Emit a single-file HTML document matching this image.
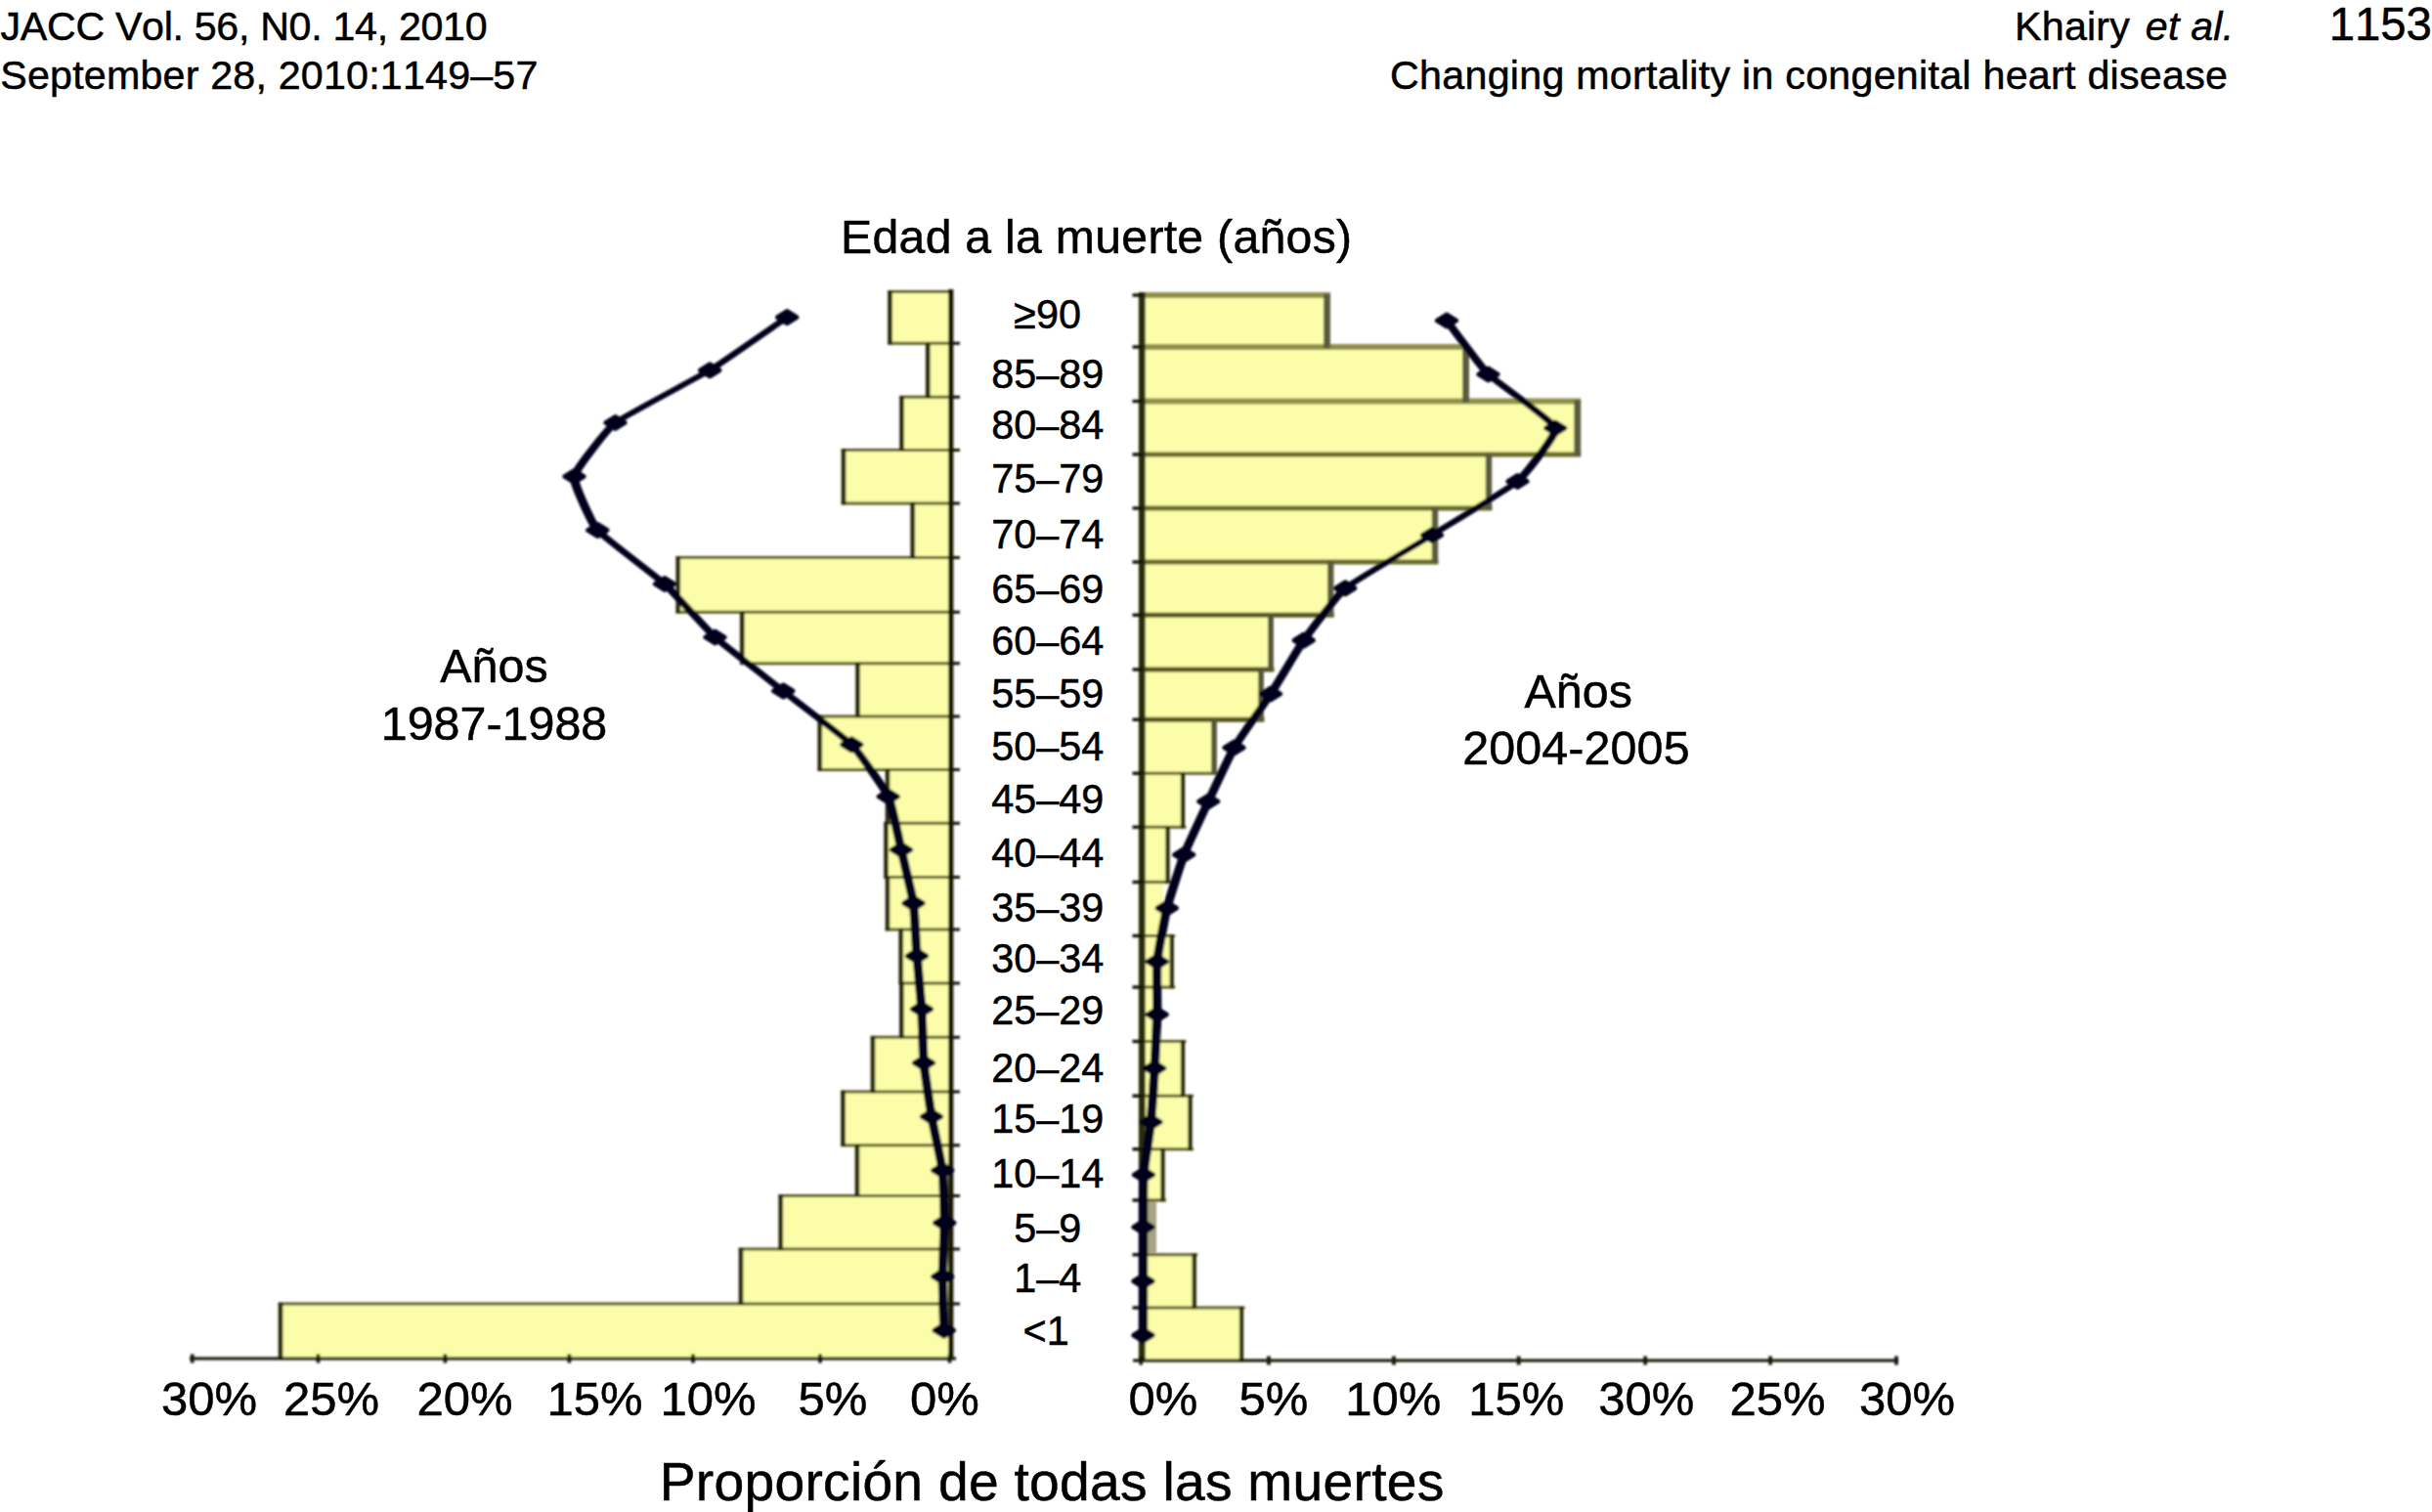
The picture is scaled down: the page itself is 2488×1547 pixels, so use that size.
<!DOCTYPE html>
<html lang="es"><head><meta charset="utf-8"><title>Changing mortality in congenital heart disease</title>
<style>
html,body{margin:0;padding:0;background:#fff;}
body{width:2488px;height:1547px;overflow:hidden;position:relative;}
svg{position:absolute;left:0;top:0;display:block;}
text{font-family:"Liberation Sans",sans-serif;fill:#000;font-kerning:none;stroke:#000;stroke-width:0.5px;}
</style></head><body>
<svg width="2488" height="1547" viewBox="0 0 2488 1547">
<defs><filter id="soft" x="-5%" y="-5%" width="110%" height="110%"><feGaussianBlur stdDeviation="1.0 0.8"/></filter></defs>
<rect width="2488" height="1547" fill="#fff"/>
<g filter="url(#soft)"><g transform="scale(1.6,1)">
<g fill="#fbfda8">
<rect x="569.06" y="298.5" width="39.38" height="52.75"/>
<rect x="593.28" y="351.25" width="15.16" height="55.00"/>
<rect x="576.56" y="406.25" width="31.88" height="54.25"/>
<rect x="539.38" y="460.5" width="69.06" height="54.50"/>
<rect x="583.59" y="515" width="24.84" height="55.50"/>
<rect x="433.59" y="570.5" width="174.84" height="55.75"/>
<rect x="474.53" y="626.25" width="133.91" height="52.50"/>
<rect x="548.44" y="678.75" width="60.00" height="54.25"/>
<rect x="524.22" y="733" width="84.22" height="54.50"/>
<rect x="567.50" y="787.5" width="40.94" height="54.80"/>
<rect x="566.56" y="842.3" width="41.88" height="55.20"/>
<rect x="567.50" y="897.5" width="40.94" height="53.50"/>
<rect x="576.09" y="951" width="32.34" height="55.00"/>
<rect x="576.44" y="1006" width="32.00" height="55.30"/>
<rect x="558.12" y="1061.3" width="50.31" height="55.70"/>
<rect x="539.06" y="1117" width="69.38" height="54.80"/>
<rect x="548.12" y="1171.8" width="60.31" height="51.70"/>
<rect x="499.22" y="1223.5" width="109.22" height="54.50"/>
<rect x="473.75" y="1278" width="134.69" height="56.00"/>
<rect x="179.38" y="1334" width="429.06" height="56.00"/>
</g>
<g fill="none">
<path d="M608.44 298.5H567.61" stroke="#5a5a1e" stroke-width="3.0"/>
<path d="M608.44 351.25H567.61" stroke="#5a5a1e" stroke-width="3.0"/>
<path d="M608.44 406.25H575.11" stroke="#5a5a1e" stroke-width="3.0"/>
<path d="M608.44 460.5H537.92" stroke="#5a5a1e" stroke-width="3.0"/>
<path d="M608.44 515H537.92" stroke="#5a5a1e" stroke-width="3.0"/>
<path d="M608.44 570.5H432.14" stroke="#5a5a1e" stroke-width="3.0"/>
<path d="M608.44 626.25H432.14" stroke="#5a5a1e" stroke-width="3.0"/>
<path d="M608.44 678.75H473.08" stroke="#5a5a1e" stroke-width="3.0"/>
<path d="M608.44 733H522.77" stroke="#5a5a1e" stroke-width="3.0"/>
<path d="M608.44 787.5H522.77" stroke="#5a5a1e" stroke-width="3.0"/>
<path d="M608.44 842.3H565.11" stroke="#5a5a1e" stroke-width="3.0"/>
<path d="M608.44 897.5H565.11" stroke="#5a5a1e" stroke-width="3.0"/>
<path d="M608.44 951H566.05" stroke="#5a5a1e" stroke-width="3.0"/>
<path d="M608.44 1006H574.64" stroke="#5a5a1e" stroke-width="3.0"/>
<path d="M608.44 1061.3H556.67" stroke="#5a5a1e" stroke-width="3.0"/>
<path d="M608.44 1117H537.61" stroke="#5a5a1e" stroke-width="3.0"/>
<path d="M608.44 1171.8H537.61" stroke="#5a5a1e" stroke-width="3.0"/>
<path d="M608.44 1223.5H497.77" stroke="#5a5a1e" stroke-width="3.0"/>
<path d="M608.44 1278H472.30" stroke="#5a5a1e" stroke-width="3.0"/>
<path d="M608.44 1334H177.92" stroke="#5a5a1e" stroke-width="3.0"/>
</g>
<g fill="none">
<path d="M569.06 297.30V352.45" stroke="#2a2a0c" stroke-width="2.9"/>
<path d="M593.28 350.05V407.45" stroke="#2a2a0c" stroke-width="2.9"/>
<path d="M576.56 405.05V461.70" stroke="#2a2a0c" stroke-width="2.9"/>
<path d="M539.38 459.30V516.20" stroke="#2a2a0c" stroke-width="2.9"/>
<path d="M583.59 513.80V571.70" stroke="#2a2a0c" stroke-width="2.9"/>
<path d="M433.59 569.30V627.45" stroke="#2a2a0c" stroke-width="2.9"/>
<path d="M474.53 625.05V679.95" stroke="#2a2a0c" stroke-width="2.9"/>
<path d="M548.44 677.55V734.20" stroke="#2a2a0c" stroke-width="2.9"/>
<path d="M524.22 731.80V788.70" stroke="#2a2a0c" stroke-width="2.9"/>
<path d="M567.50 786.30V843.50" stroke="#2a2a0c" stroke-width="2.9"/>
<path d="M566.56 841.10V898.70" stroke="#2a2a0c" stroke-width="2.9"/>
<path d="M567.50 896.30V952.20" stroke="#2a2a0c" stroke-width="2.9"/>
<path d="M576.09 949.80V1007.20" stroke="#2a2a0c" stroke-width="2.9"/>
<path d="M576.44 1004.80V1062.50" stroke="#2a2a0c" stroke-width="2.9"/>
<path d="M558.12 1060.10V1118.20" stroke="#2a2a0c" stroke-width="2.9"/>
<path d="M539.06 1115.80V1173.00" stroke="#2a2a0c" stroke-width="2.9"/>
<path d="M548.12 1170.60V1224.70" stroke="#2a2a0c" stroke-width="2.9"/>
<path d="M499.22 1222.30V1279.20" stroke="#2a2a0c" stroke-width="2.9"/>
<path d="M473.75 1276.80V1335.20" stroke="#2a2a0c" stroke-width="2.9"/>
<path d="M179.38 1332.80V1391.20" stroke="#2a2a0c" stroke-width="2.9"/>
</g>
<g stroke="#121206" fill="none">
<path d="M608.00 296.0V1391" stroke-width="3.2"/>
<path d="M121.25 1390H611.25" stroke-width="3.2"/>
<path d="M608.44 351.25h5.31" stroke-width="3"/>
<path d="M608.44 406.25h5.31" stroke-width="3"/>
<path d="M608.44 460.5h5.31" stroke-width="3"/>
<path d="M608.44 515h5.31" stroke-width="3"/>
<path d="M608.44 570.5h5.31" stroke-width="3"/>
<path d="M608.44 626.25h5.31" stroke-width="3"/>
<path d="M608.44 678.75h5.31" stroke-width="3"/>
<path d="M608.44 733h5.31" stroke-width="3"/>
<path d="M608.44 787.5h5.31" stroke-width="3"/>
<path d="M608.44 842.3h5.31" stroke-width="3"/>
<path d="M608.44 897.5h5.31" stroke-width="3"/>
<path d="M608.44 951h5.31" stroke-width="3"/>
<path d="M608.44 1006h5.31" stroke-width="3"/>
<path d="M608.44 1061.3h5.31" stroke-width="3"/>
<path d="M608.44 1117h5.31" stroke-width="3"/>
<path d="M608.44 1171.8h5.31" stroke-width="3"/>
<path d="M608.44 1223.5h5.31" stroke-width="3"/>
<path d="M608.44 1278h5.31" stroke-width="3"/>
<path d="M608.44 1334h5.31" stroke-width="3"/>
<path d="M122.94 1385.5v9" stroke-width="2.3"/>
<path d="M203.44 1385.5v9" stroke-width="2.3"/>
<path d="M284.62 1385.5v9" stroke-width="2.3"/>
<path d="M364.00 1385.5v9" stroke-width="2.3"/>
<path d="M443.12 1385.5v9" stroke-width="2.3"/>
<path d="M524.38 1385.5v9" stroke-width="2.3"/>
<path d="M607.19 1385.5v9" stroke-width="2.3"/>
</g>
<g fill="#fbfda8">
<rect x="730.00" y="302" width="118.44" height="53.00"/>
<rect x="730.00" y="355" width="207.19" height="55.50"/>
<rect x="730.00" y="410.5" width="278.59" height="54.50"/>
<rect x="730.00" y="465" width="221.88" height="55.00"/>
<rect x="730.00" y="520" width="187.50" height="55.00"/>
<rect x="730.00" y="575" width="120.78" height="54.25"/>
<rect x="730.00" y="629.25" width="82.50" height="55.75"/>
<rect x="730.00" y="685" width="76.25" height="51.25"/>
<rect x="730.00" y="736.25" width="46.25" height="55.00"/>
<rect x="730.00" y="791.25" width="26.25" height="55.00"/>
<rect x="730.00" y="846.25" width="16.56" height="56.25"/>
<rect x="730.00" y="902.5" width="13.75" height="55.00"/>
<rect x="730.00" y="957.5" width="19.22" height="52.50"/>
<rect x="730.00" y="1010" width="12.50" height="55.50"/>
<rect x="730.00" y="1065.5" width="26.25" height="55.75"/>
<rect x="730.00" y="1121.25" width="30.94" height="54.50"/>
<rect x="730.00" y="1175.75" width="13.44" height="52.25"/>
<rect x="730.00" y="1228" width="8.12" height="55.75"/>
<rect x="730.00" y="1283.75" width="33.59" height="54.25"/>
<rect x="730.00" y="1338" width="63.75" height="54.00"/>
</g>
<g fill="none">
<path d="M730.00 302H850.59" stroke="#90904c" stroke-width="5.8"/>
<path d="M730.00 355H939.34" stroke="#90904c" stroke-width="5.8"/>
<path d="M730.00 410.5H1010.74" stroke="#90904c" stroke-width="5.8"/>
<path d="M730.00 465H1010.74" stroke="#6a6a2c" stroke-width="5.2"/>
<path d="M730.00 520H954.02" stroke="#6a6a2c" stroke-width="5.2"/>
<path d="M730.00 575H919.65" stroke="#6a6a2c" stroke-width="5.2"/>
<path d="M730.00 629.25H852.93" stroke="#55551c" stroke-width="5.0"/>
<path d="M730.00 685H814.65" stroke="#55551c" stroke-width="5.0"/>
<path d="M730.00 736.25H808.40" stroke="#55551c" stroke-width="5.0"/>
<path d="M730.00 791.25H778.40" stroke="#5a5a22" stroke-width="3.2"/>
<path d="M730.00 846.25H758.40" stroke="#5a5a22" stroke-width="3.2"/>
<path d="M730.00 902.5H748.71" stroke="#5a5a22" stroke-width="3.2"/>
<path d="M730.00 957.5H751.37" stroke="#5a5a22" stroke-width="3.2"/>
<path d="M730.00 1010H751.37" stroke="#5a5a22" stroke-width="3.2"/>
<path d="M730.00 1065.5H758.40" stroke="#5a5a22" stroke-width="3.2"/>
<path d="M730.00 1121.25H763.09" stroke="#5a5a22" stroke-width="3.2"/>
<path d="M730.00 1175.75H763.09" stroke="#5a5a22" stroke-width="3.2"/>
<path d="M730.00 1228H745.59" stroke="#5a5a22" stroke-width="3.2"/>
<path d="M730.00 1283.75H765.74" stroke="#5a5a22" stroke-width="3.2"/>
<path d="M730.00 1338H795.90" stroke="#5a5a22" stroke-width="3.2"/>
</g>
<g fill="none">
<path d="M848.44 300.80V356.20" stroke="#5a5a40" stroke-width="4.3"/>
<path d="M937.19 353.80V411.70" stroke="#5a5a40" stroke-width="4.3"/>
<path d="M1008.59 409.30V466.20" stroke="#5a5a40" stroke-width="4.3"/>
<path d="M951.88 463.80V521.20" stroke="#5a5a40" stroke-width="4.0"/>
<path d="M917.50 518.80V576.20" stroke="#5a5a40" stroke-width="4.0"/>
<path d="M850.78 573.80V630.45" stroke="#5a5a40" stroke-width="4.0"/>
<path d="M812.50 628.05V686.20" stroke="#55553a" stroke-width="3.6"/>
<path d="M806.25 683.80V737.45" stroke="#55553a" stroke-width="3.6"/>
<path d="M776.25 735.05V792.45" stroke="#55553a" stroke-width="3.6"/>
<path d="M756.25 790.05V847.45" stroke="#2c2c10" stroke-width="2.7"/>
<path d="M746.56 845.05V903.70" stroke="#2c2c10" stroke-width="2.7"/>
<path d="M749.22 956.30V1011.20" stroke="#2c2c10" stroke-width="2.7"/>
<path d="M756.25 1064.30V1122.45" stroke="#2c2c10" stroke-width="2.7"/>
<path d="M760.94 1120.05V1176.95" stroke="#2c2c10" stroke-width="2.7"/>
<path d="M743.44 1174.55V1229.20" stroke="#2c2c10" stroke-width="2.7"/>
<path d="M763.59 1282.55V1339.20" stroke="#2c2c10" stroke-width="2.7"/>
<path d="M793.75 1336.80V1393.20" stroke="#2c2c10" stroke-width="2.7"/>
</g>
<rect x="730.00" y="1230" width="9.38" height="51.75" fill="#a5a583"/>
<g stroke="#2a2e0e" fill="none">
<path d="M730.19 299V1393" stroke-width="4.3"/>
</g>
<g stroke="#121206" fill="none">
<path d="M724.38 1392H1213.75" stroke-width="3.2"/>
<path d="M730.62 302h-6.56" stroke-width="3.4"/>
<path d="M730.62 355h-6.56" stroke-width="3.4"/>
<path d="M730.62 410.5h-6.56" stroke-width="3.4"/>
<path d="M730.62 465h-6.56" stroke-width="3.4"/>
<path d="M730.62 520h-6.56" stroke-width="3.4"/>
<path d="M730.62 575h-6.56" stroke-width="3.4"/>
<path d="M730.62 629.25h-6.56" stroke-width="3.4"/>
<path d="M730.62 685h-6.56" stroke-width="3.4"/>
<path d="M730.62 736.25h-6.56" stroke-width="3.4"/>
<path d="M730.62 791.25h-6.56" stroke-width="3.4"/>
<path d="M730.62 846.25h-6.56" stroke-width="3.4"/>
<path d="M730.62 902.5h-6.56" stroke-width="3.4"/>
<path d="M730.62 957.5h-6.56" stroke-width="3.4"/>
<path d="M730.62 1010h-6.56" stroke-width="3.4"/>
<path d="M730.62 1065.5h-6.56" stroke-width="3.4"/>
<path d="M730.62 1121.25h-6.56" stroke-width="3.4"/>
<path d="M730.62 1175.75h-6.56" stroke-width="3.4"/>
<path d="M730.62 1228h-6.56" stroke-width="3.4"/>
<path d="M730.62 1283.75h-6.56" stroke-width="3.4"/>
<path d="M730.62 1338h-6.56" stroke-width="3.4"/>
<path d="M729.50 1387.5v9" stroke-width="2.3"/>
<path d="M811.19 1387.5v9" stroke-width="2.3"/>
<path d="M891.19 1387.5v9" stroke-width="2.3"/>
<path d="M971.00 1387.5v9" stroke-width="2.3"/>
<path d="M1052.00 1387.5v9" stroke-width="2.3"/>
<path d="M1132.00 1387.5v9" stroke-width="2.3"/>
<path d="M1212.50 1387.5v9" stroke-width="2.3"/>
</g>
</g>
<g transform="scale(2.2,1)">
<path d="M366.0 324.6C363.8 327.8 334.9 372.3 330.1 378.8C325.3 385.2 289.9 426.0 286.1 432.5C282.4 439.0 267.5 480.9 267.0 487.5C266.5 494.1 275.3 535.9 277.8 542.5C280.4 549.1 305.8 590.9 309.1 597.5C312.4 604.1 329.2 645.4 332.5 652.0C335.8 658.6 360.4 700.4 364.2 707.0C368.0 713.6 393.1 755.3 396.0 761.8C399.0 768.2 411.7 808.5 413.1 815.0C414.5 821.5 418.4 862.9 419.1 869.5C419.8 876.1 424.3 917.7 424.8 924.2C425.2 930.8 426.1 971.8 426.4 978.2C426.6 984.7 428.4 1025.9 428.6 1032.5C428.8 1039.1 429.3 1080.9 429.5 1087.5C429.8 1094.1 432.7 1135.9 433.2 1142.5C433.7 1149.1 437.9 1191.0 438.3 1197.5C438.7 1204.0 439.2 1244.7 439.2 1251.2C439.2 1257.8 438.3 1299.7 438.3 1306.2C438.3 1312.8 438.9 1358.0 439.0 1361.2" fill="none" stroke="#05051c" stroke-width="4.25" stroke-linejoin="round" stroke-linecap="round"/>
<path d="M672.7 328.0C673.9 331.3 689.0 376.4 692.0 383.0C695.1 389.6 722.5 431.4 723.3 438.0C724.1 444.6 709.1 485.9 705.7 492.5C702.2 499.1 670.7 540.9 665.9 547.5C661.1 554.1 629.1 595.3 625.6 601.8C622.0 608.2 608.3 648.8 606.2 655.2C604.2 661.7 592.9 703.4 590.9 710.0C589.0 716.6 575.6 758.4 573.9 765.0C572.1 771.6 563.3 813.4 561.9 820.0C560.5 826.6 551.7 867.9 550.6 874.5C549.4 881.1 543.4 922.7 542.6 929.2C541.9 935.8 538.3 977.2 538.1 983.8C537.8 990.3 538.1 1031.4 538.1 1038.0C538.0 1044.6 537.1 1086.4 536.9 1093.0C536.8 1099.6 535.5 1141.5 535.2 1148.0C534.9 1154.5 532.0 1195.5 531.8 1202.0C531.6 1208.5 531.6 1249.0 531.6 1255.5C531.6 1262.0 531.6 1304.1 531.6 1310.8C531.6 1317.4 531.6 1362.9 531.6 1366.2" fill="none" stroke="#05051c" stroke-width="4.25" stroke-linejoin="round" stroke-linecap="round"/>
</g>
<g fill="#05051c" stroke="#05051c" stroke-width="5" stroke-linejoin="round"><path d="M795.6 324.6L805.2 318.6L814.8 324.6L805.2 330.6Z"/><path d="M716.6 378.8L726.2 372.8L735.9 378.8L726.2 384.8Z"/><path d="M619.9 432.5L629.5 426.5L639.1 432.5L629.5 438.5Z"/><path d="M577.9 487.5L587.5 481.5L597.1 487.5L587.5 493.5Z"/><path d="M601.6 542.5L611.2 536.5L620.9 542.5L611.2 548.5Z"/><path d="M670.4 597.5L680.0 591.5L689.6 597.5L680.0 603.5Z"/><path d="M721.9 652.0L731.5 646.0L741.1 652.0L731.5 658.0Z"/><path d="M791.6 707.0L801.2 701.0L810.9 707.0L801.2 713.0Z"/><path d="M861.6 761.8L871.2 755.8L880.9 761.8L871.2 767.8Z"/><path d="M899.2 815.0L908.8 809.0L918.4 815.0L908.8 821.0Z"/><path d="M912.4 869.5L922.0 863.5L931.6 869.5L922.0 875.5Z"/><path d="M924.9 924.2L934.5 918.2L944.1 924.2L934.5 930.2Z"/><path d="M928.4 978.2L938.0 972.2L947.6 978.2L938.0 984.2Z"/><path d="M933.4 1032.5L943.0 1026.5L952.6 1032.5L943.0 1038.5Z"/><path d="M935.4 1087.5L945.0 1081.5L954.6 1087.5L945.0 1093.5Z"/><path d="M943.4 1142.5L953.0 1136.5L962.6 1142.5L953.0 1148.5Z"/><path d="M954.6 1197.5L964.2 1191.5L973.9 1197.5L964.2 1203.5Z"/><path d="M956.6 1251.2L966.2 1245.2L975.9 1251.2L966.2 1257.2Z"/><path d="M954.6 1306.2L964.2 1300.2L973.9 1306.2L964.2 1312.2Z"/><path d="M956.1 1361.2L965.8 1355.2L975.4 1361.2L965.8 1367.2Z"/><path d="M1470.4 328.0L1480.0 322.0L1489.6 328.0L1480.0 334.0Z"/><path d="M1512.9 383.0L1522.5 377.0L1532.1 383.0L1522.5 389.0Z"/><path d="M1581.7 438.0L1591.2 432.0L1600.8 438.0L1591.2 444.0Z"/><path d="M1542.9 492.5L1552.5 486.5L1562.1 492.5L1552.5 498.5Z"/><path d="M1455.4 547.5L1465.0 541.5L1474.6 547.5L1465.0 553.5Z"/><path d="M1366.7 601.8L1376.2 595.8L1385.8 601.8L1376.2 607.8Z"/><path d="M1324.2 655.2L1333.8 649.2L1343.3 655.2L1333.8 661.2Z"/><path d="M1290.4 710.0L1300.0 704.0L1309.6 710.0L1300.0 716.0Z"/><path d="M1252.9 765.0L1262.5 759.0L1272.1 765.0L1262.5 771.0Z"/><path d="M1226.7 820.0L1236.2 814.0L1245.8 820.0L1236.2 826.0Z"/><path d="M1201.7 874.5L1211.2 868.5L1220.8 874.5L1211.2 880.5Z"/><path d="M1184.2 929.2L1193.8 923.2L1203.4 929.2L1193.8 935.2Z"/><path d="M1174.2 983.8L1183.8 977.8L1193.3 983.8L1183.8 989.8Z"/><path d="M1174.2 1038.0L1183.8 1032.0L1193.3 1038.0L1183.8 1044.0Z"/><path d="M1171.7 1093.0L1181.2 1087.0L1190.8 1093.0L1181.2 1099.0Z"/><path d="M1167.9 1148.0L1177.5 1142.0L1187.1 1148.0L1177.5 1154.0Z"/><path d="M1160.4 1202.0L1170.0 1196.0L1179.6 1202.0L1170.0 1208.0Z"/><path d="M1159.9 1255.5L1169.5 1249.5L1179.1 1255.5L1169.5 1261.5Z"/><path d="M1159.9 1310.8L1169.5 1304.8L1179.1 1310.8L1169.5 1316.8Z"/><path d="M1159.9 1366.2L1169.5 1360.2L1179.1 1366.2L1169.5 1372.2Z"/></g>
</g>
<text id="jacc" transform="translate(0.60,41.25) scale(1,1)" font-size="41.2" textLength="497.98" lengthAdjust="spacing">JACC Vol. 56, N0. 14, 2010</text>
<text id="sept" transform="translate(0.35,91.25) scale(1,1)" font-size="41.2" textLength="550.03" lengthAdjust="spacing">September 28, 2010:1149–57</text>
<text id="chg" transform="translate(1422.10,91.25) scale(1,1)" font-size="41.2" textLength="856.86" lengthAdjust="spacing">Changing mortality in congenital heart disease</text>
<text id="p1153" transform="translate(2382.64,41.25) scale(1,1)" font-size="47.3">1153</text>
<text id="title" transform="translate(860.07,259.25) scale(1,1)" font-size="48.2" textLength="522.97" lengthAdjust="spacing">Edad a la muerte (años)</text>
<text id="anosL" transform="translate(450.31,697.75) scale(1,1)" font-size="48.4">Años</text>
<text id="y8788" transform="translate(389.81,756.9) scale(1,1)" font-size="48.4" textLength="231.42" lengthAdjust="spacing">1987-1988</text>
<text id="anosR" transform="translate(1559.56,723.75) scale(1,1)" font-size="48.4">Años</text>
<text id="y0405" transform="translate(1496.16,781.9) scale(1,1)" font-size="48.4" textLength="232.42" lengthAdjust="spacing">2004-2005</text>
<text id="prop" transform="translate(674.79,1534.6) scale(1,1)" font-size="55.2" textLength="802.52" lengthAdjust="spacing">Proporción de todas las muertes</text>
<text id="L30" transform="translate(165.07,1448.1) scale(1,1)" font-size="49">30%</text>
<text id="L25" transform="translate(290.07,1448.1) scale(1,1)" font-size="49">25%</text>
<text id="L20" transform="translate(426.57,1448.1) scale(1,1)" font-size="49">20%</text>
<text id="L15" transform="translate(559.57,1448.1) scale(1,1)" font-size="49">15%</text>
<text id="L10" transform="translate(675.47,1448.1) scale(1,1)" font-size="49">10%</text>
<text id="L5" transform="translate(816.57,1448.1) scale(1,1)" font-size="49">5%</text>
<text id="L0" transform="translate(931.07,1448.1) scale(1,1)" font-size="49">0%</text>
<text id="R0" transform="translate(1154.57,1448.1) scale(1,1)" font-size="49">0%</text>
<text id="R5" transform="translate(1267.47,1448.1) scale(1,1)" font-size="49">5%</text>
<text id="R10" transform="translate(1376.17,1448.1) scale(1,1)" font-size="49">10%</text>
<text id="R15" transform="translate(1502.17,1448.1) scale(1,1)" font-size="49">15%</text>
<text id="R30a" transform="translate(1635.32,1448.1) scale(1,1)" font-size="49">30%</text>
<text id="R25" transform="translate(1769.47,1448.1) scale(1,1)" font-size="49">25%</text>
<text id="R30b" transform="translate(1902.07,1448.1) scale(1,1)" font-size="49">30%</text>
<text id="khairy" transform="translate(2061.10,41.25) scale(1,1)" font-size="41.2" textLength="117.75" lengthAdjust="spacing">Khairy</text>
<text id="etal" transform="translate(2194.85,41.25) scale(1,1)" font-size="41.2" textLength="90.30" lengthAdjust="spacing" font-style="italic">et al.</text>
<text id="age0" transform="translate(1071.70,336.25) scale(1,1.045)" font-size="41.4" text-anchor="middle">≥90</text>
<text id="age1" transform="translate(1071.70,396.5) scale(1,1.045)" font-size="41.4" text-anchor="middle">85–89</text>
<text id="age2" transform="translate(1071.70,449.1) scale(1,1.045)" font-size="41.4" text-anchor="middle">80–84</text>
<text id="age3" transform="translate(1071.70,504.4) scale(1,1.045)" font-size="41.4" text-anchor="middle">75–79</text>
<text id="age4" transform="translate(1071.70,560.8) scale(1,1.045)" font-size="41.4" text-anchor="middle">70–74</text>
<text id="age5" transform="translate(1071.70,616.5) scale(1,1.045)" font-size="41.4" text-anchor="middle">65–69</text>
<text id="age6" transform="translate(1071.70,670.3) scale(1,1.045)" font-size="41.4" text-anchor="middle">60–64</text>
<text id="age7" transform="translate(1071.70,723.5) scale(1,1.045)" font-size="41.4" text-anchor="middle">55–59</text>
<text id="age8" transform="translate(1071.70,778.3) scale(1,1.045)" font-size="41.4" text-anchor="middle">50–54</text>
<text id="age9" transform="translate(1071.70,832.2) scale(1,1.045)" font-size="41.4" text-anchor="middle">45–49</text>
<text id="age10" transform="translate(1071.70,887.3) scale(1,1.045)" font-size="41.4" text-anchor="middle">40–44</text>
<text id="age11" transform="translate(1071.70,943.4) scale(1,1.045)" font-size="41.4" text-anchor="middle">35–39</text>
<text id="age12" transform="translate(1071.70,995.2) scale(1,1.045)" font-size="41.4" text-anchor="middle">30–34</text>
<text id="age13" transform="translate(1071.70,1048.4) scale(1,1.045)" font-size="41.4" text-anchor="middle">25–29</text>
<text id="age14" transform="translate(1071.70,1106.6) scale(1,1.045)" font-size="41.4" text-anchor="middle">20–24</text>
<text id="age15" transform="translate(1071.70,1158.9) scale(1,1.045)" font-size="41.4" text-anchor="middle">15–19</text>
<text id="age16" transform="translate(1071.70,1214.5) scale(1,1.045)" font-size="41.4" text-anchor="middle">10–14</text>
<text id="age17" transform="translate(1071.70,1270.9) scale(1,1.045)" font-size="41.4" text-anchor="middle">5–9</text>
<text id="age18" transform="translate(1071.70,1321.5) scale(1,1.045)" font-size="41.4" text-anchor="middle">1–4</text>
<text id="age19" transform="translate(1070.20,1375.6) scale(1,1.045)" font-size="41.4" text-anchor="middle">&lt;1</text>
</svg>
</body></html>
